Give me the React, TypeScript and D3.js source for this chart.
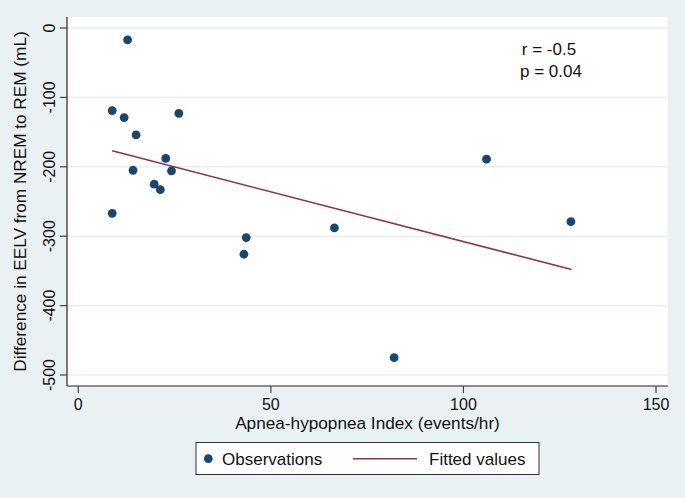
import React from "react";
import * as d3 from "d3";

const ahi = [12.8, 8.8, 11.9, 15.0, 26.1, 22.7, 14.2, 24.2, 19.7, 21.3, 8.8, 43.6, 43.0, 66.5, 106.0, 127.9, 82.0];
const eelvDiff = [-17, -119, -129, -154, -123, -188, -205, -206, -225, -233, -267, -302, -326, -288, -189, -279, -475];
const fitX = [8.8, 128.1];
const fitY = [-177, -348];
const xTicks = [0, 50, 100, 150];
const yTicks = [0, -100, -200, -300, -400, -500];
const statLines = ["r = -0.5", "p = 0.04"];

const W = 685, H = 498;
const plotL = 67, plotR = 668, plotT = 17, plotB = 386;
const FONT = "'Liberation Sans', Arial, Helvetica, sans-serif";
const navy = "#1a476f";
const maroon = "#90353b";

export default function App() {
  const x = d3.scaleLinear().domain([0, 150]).range([78.3, 656]);
  const y = d3.scaleLinear().domain([0, -500]).range([28, 375]);
  const line = d3.line<number>().x((_, i) => x(fitX[i])).y((d) => y(d));

  return (
    <svg width={W} height={H} style={{ position: "absolute", left: 0, top: 0 }} fontFamily={FONT}>
      <rect x={0} y={0} width={W} height={H} fill="#eaf1f3" />
      <rect x={plotL} y={plotT} width={plotR - plotL} height={plotB - plotT} fill="#ffffff" />
      {yTicks.map((t) => (
        <line key={"g" + t} x1={plotL} x2={plotR} y1={y(t)} y2={y(t)} stroke="#e6eff1" strokeWidth={1.6} />
      ))}
      {/* axes */}
      <line x1={plotL} x2={plotL} y1={plotT} y2={plotB} stroke="#222" strokeWidth={1.2} />
      <line x1={plotL} x2={plotR} y1={plotB} y2={plotB} stroke="#222" strokeWidth={1.2} />
      {yTicks.map((t) => (
        <g key={"y" + t}>
          <line x1={plotL - 7} x2={plotL} y1={y(t)} y2={y(t)} stroke="#444" strokeWidth={1.2} />
          <text transform={`translate(55,${y(t)}) rotate(-90)`} textAnchor="middle" fontSize={16} fill="#111">
            {t}
          </text>
        </g>
      ))}
      {xTicks.map((t) => (
        <g key={"x" + t}>
          <line x1={x(t)} x2={x(t)} y1={plotB} y2={plotB + 7} stroke="#444" strokeWidth={1.2} />
          <text x={x(t)} y={410} textAnchor="middle" fontSize={16} fill="#111">
            {t}
          </text>
        </g>
      ))}
      <text x={(plotL + plotR) / 2} y={429} textAnchor="middle" fontSize={17.2} fill="#111">
        Apnea-hypopnea Index (events/hr)
      </text>
      <text transform={`translate(26,${(plotT + plotB) / 2}) rotate(-90)`} textAnchor="middle" fontSize={17.2} fill="#111">
        Difference in EELV from NREM to REM (mL)
      </text>
      {/* fit line */}
      <path d={line(fitY) || ""} fill="none" stroke={maroon} strokeWidth={1.6} />
      {/* points */}
      {ahi.map((a, i) => (
        <circle key={i} cx={x(a)} cy={y(eelvDiff[i])} r={4.4} fill={navy} />
      ))}
      {/* stats */}
      <text x={549} y={55} textAnchor="middle" fontSize={17} fill="#111">{statLines[0]}</text>
      <text x={551} y={77} textAnchor="middle" fontSize={17} fill="#111">{statLines[1]}</text>
      {/* legend */}
      <rect x={196} y={442.5} width={343} height={32} fill="#fff" stroke="#333" strokeWidth={1} />
      <circle cx={208.3} cy={458.7} r={4.4} fill={navy} />
      <text x={222} y={465} fontSize={17} fill="#111">Observations</text>
      <line x1={353} x2={417} y1={458.7} y2={458.7} stroke={maroon} strokeWidth={1.6} />
      <text x={429} y={465} fontSize={17} fill="#111">Fitted values</text>
    </svg>
  );
}
